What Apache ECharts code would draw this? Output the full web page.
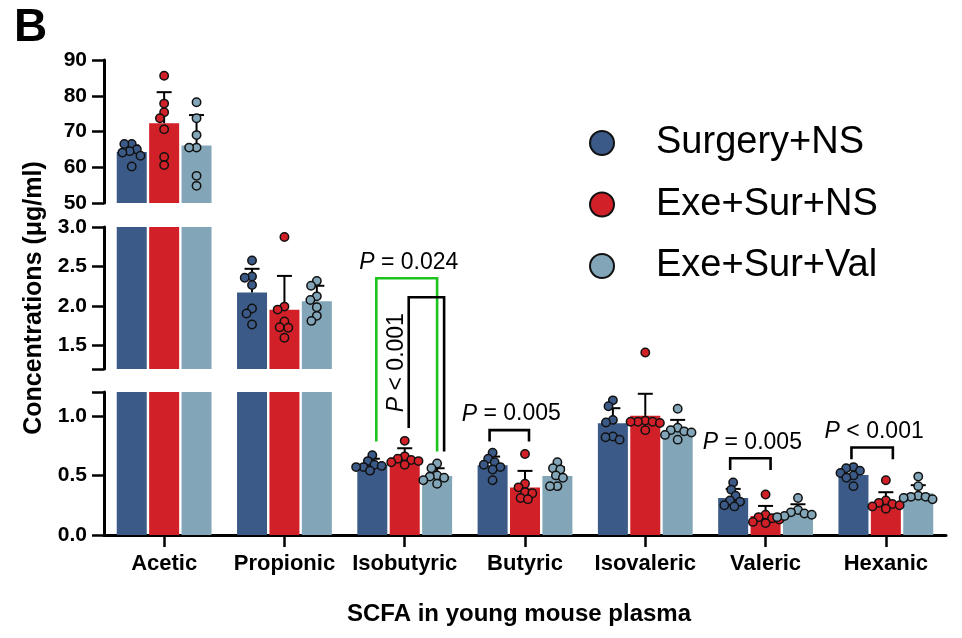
<!DOCTYPE html>
<html>
<head>
<meta charset="utf-8">
<title>SCFA in young mouse plasma</title>
<script src="https://cdn.jsdelivr.net/npm/echarts@6/dist/echarts.min.js"></script>
<style>
  html, body { margin: 0; padding: 0; background: #fff; }
  #chart { width: 962px; height: 638px; }
</style>
</head>
<body>
<div id="chart"></div>
<script>
// ---------- data ----------
const categories = ['Acetic', 'Propionic', 'Isobutyric', 'Butyric', 'Isovaleric', 'Valeric', 'Hexanic'];
const groups = ['Surgery+NS', 'Exe+Sur+NS', 'Exe+Sur+Val'];

// group means (µg/ml)
const meanSurgeryNS = [64.3, 2.17, 0.59, 0.585, 0.938, 0.311, 0.504];
const meanExeSurNS  = [72.3, 1.95, 0.65, 0.398, 1.00, 0.160, 0.275];
const meanExeSurVal = [66.1, 2.06, 0.496, 0.496, 0.882, 0.190, 0.350];

// standard deviations (drawn upward only)
const sdSurgeryNS = [1.8, 0.30, 0.05, 0.073, 0.126, 0.076, 0.056];
const sdExeSurNS  = [8.7, 0.43, 0.078, 0.14, 0.185, 0.084, 0.084];
const sdExeSurVal = [8.5, 0.195, 0.064, 0.073, 0.084, 0.068, 0.068];

// individual animals, one list per acid
const ptsSurgeryNS = [
  [66.5, 66.5, 65.0, 64.5, 64.1, 63.2, 60.2],
  [2.575, 2.373, 2.357, 2.265, 1.966, 1.903, 1.764],
  [0.67, 0.62, 0.59, 0.58, 0.57, 0.57, 0.54],
  [0.69, 0.64, 0.61, 0.59, 0.57, 0.55, 0.46],
  [1.13, 1.08, 0.966, 0.944, 0.826, 0.82, 0.80],
  [0.44, 0.38, 0.33, 0.29, 0.28, 0.25, 0.24],
  [0.57, 0.56, 0.54, 0.52, 0.50, 0.48, 0.41]
];
const ptsExeSurNS = [
  [85.6, 77.8, 75.4, 73.7, 70.6, 62.9, 60.6],
  [2.874, 1.991, 1.953, 1.802, 1.730, 1.722, 1.596],
  [0.79, 0.66, 0.64, 0.63, 0.62, 0.61, 0.59],
  [0.68, 0.43, 0.40, 0.36, 0.35, 0.31, 0.30],
  [1.41, 0.96, 0.95, 0.95, 0.95, 0.94, 0.88],
  [0.34, 0.17, 0.15, 0.14, 0.13, 0.11, 0.10],
  [0.46, 0.29, 0.27, 0.26, 0.25, 0.24, 0.22]
];
const ptsExeSurVal = [
  [78.2, 73.7, 69.0, 65.5, 65.5, 57.6, 54.8],
  [2.315, 2.256, 2.121, 2.075, 1.983, 1.874, 1.81],
  [0.60, 0.56, 0.50, 0.49, 0.48, 0.46, 0.43],
  [0.61, 0.56, 0.55, 0.50, 0.48, 0.41, 0.41],
  [1.06, 0.90, 0.88, 0.87, 0.86, 0.84, 0.80],
  [0.31, 0.21, 0.19, 0.18, 0.17, 0.16, 0.15],
  [0.49, 0.41, 0.33, 0.32, 0.32, 0.31, 0.30]
];

// broken y axis: upper, middle and lower panels
const rangeUpper  = [50, 90];
const rangeMiddle = [1.2, 3.0];
const rangeLower  = [0, 1.2];
const ticksUpper  = [50, 60, 70, 80, 90];
const ticksMiddle = [1.5, 2.0, 2.5, 3.0];
const ticksLower  = [0, 0.5, 1.0];

// pairwise comparisons
const sigText      = ['P = 0.024', 'P < 0.001', 'P = 0.005', 'P = 0.005', 'P < 0.001'];
const sigCategory  = [2, 2, 3, 5, 6];
const sigFromGroup = [0, 1, 0, 0, 0];
const sigToGroup   = [2, 2, 1, 1, 1];
const sigTopValue  = [2.35, 2.11, 0.88, 0.644, 0.734];
const sigTopPanel  = [1, 1, 2, 2, 2];
const sigLegFrom   = [0.784, 0.897, 0.784, 0.546, 0.636];
const sigLegTo     = [0.70, 0.70, 0.784, 0.546, 0.636];

// ---------- drawing ----------
const FONT = '"Liberation Sans", Arial, Helvetica, sans-serif';
const colors = ['#3B5A87', '#D12027', '#82A6B8'];
const means = [meanSurgeryNS, meanExeSurNS, meanExeSurVal];
const sds = [sdSurgeryNS, sdExeSurNS, sdExeSurVal];
const points = [ptsSurgeryNS, ptsExeSurNS, ptsExeSurVal];
const ranges = [rangeUpper, rangeMiddle, rangeLower];
const panelBoxes = [{ top: 60, height: 143 }, { top: 227, height: 142 }, { top: 392, height: 143 }];

const BAR_W = 30;
const BAR_GAP = 0.08;
const STEP = BAR_W * (1 + BAR_GAP);
const groupOffset = [-STEP, 0, STEP];
const DOT_R = 4.2;
const DOT_SPACING = 7.4;
const CAP_HALF = 7.5;

function panelOf(v) {
  for (let i = 0; i < ranges.length; i++) {
    if (v > ranges[i][0] && v <= ranges[i][1]) return i;
  }
  return 2;
}

// simple beeswarm: push overlapping dots sideways
function swarm(ys, d) {
  const xs = [];
  ys.forEach((y, i) => {
    const bans = [];
    for (let j = 0; j < i; j++) {
      const dy = Math.abs(y - ys[j]);
      if (dy < d) {
        const h = Math.sqrt(d * d - dy * dy);
        bans.push([xs[j] - h, xs[j] + h]);
      }
    }
    const cands = [0];
    bans.forEach(b => cands.push(b[0], b[1]));
    cands.sort((a, b) => (Math.abs(a) - Math.abs(b)) || (a - b));
    const x = cands.find(c => bans.every(b => c <= b[0] + 1e-6 || c >= b[1] - 1e-6));
    xs.push(x);
  });
  return xs;
}

function renderError(params, api) {
  const c = api.value(0), m = api.value(1), g = api.value(2), t = api.value(3);
  const p0 = api.coord([c, m]);
  const p1 = api.coord([c, t]);
  const x = p0[0] + groupOffset[g];
  const st = { stroke: '#000', lineWidth: 2 };
  return {
    type: 'group',
    children: [
      { type: 'line', shape: { x1: x, y1: p0[1], x2: x, y2: p1[1] }, style: st },
      { type: 'line', shape: { x1: x - CAP_HALF, y1: p1[1], x2: x + CAP_HALF, y2: p1[1] }, style: st }
    ]
  };
}

function makeDotRenderer(g, panel) {
  return function (params, api) {
    const c = api.value(0), k = api.value(2);
    const vals = points[g][c];
    const idx = [], ys = [];
    vals.forEach((v, j) => {
      if (panelOf(v) === panel) { idx.push(j); ys.push(api.coord([c, v])[1]); }
    });
    const xs = swarm(ys, DOT_SPACING);
    const pos = api.coord([c, vals[k]]);
    return {
      type: 'circle',
      shape: { cx: pos[0] + groupOffset[g] + xs[idx.indexOf(k)], cy: pos[1], r: DOT_R },
      style: { fill: colors[g], stroke: '#111', lineWidth: 1.5 }
    };
  };
}

const grids = panelBoxes.map(b => ({
  left: 104, right: 16, top: b.top, height: b.height, outerBoundsMode: 'none', containLabel: false
}));

const xAxes = ranges.map((r, i) => ({
  type: 'category',
  gridIndex: i,
  data: categories,
  show: i === 2,
  boundaryGap: true,
  axisLine: { show: i === 2, onZero: false, lineStyle: { color: '#000', width: 3 } },
  axisTick: { show: i === 2, alignWithLabel: true, length: 12, lineStyle: { color: '#000', width: 2.5 } },
  axisLabel: { show: i === 2, color: '#000', fontSize: 22, fontWeight: 'bold', fontFamily: FONT, margin: 18, interval: 0 },
  splitLine: { show: false },
  name: i === 2 ? 'SCFA in young mouse plasma' : '',
  nameLocation: 'middle',
  nameGap: 67,
  nameTextStyle: { color: '#000', fontSize: 24, fontWeight: 'bold', fontFamily: FONT, padding: [0, 12, 0, 0] }
}));

const tickSets = [ticksUpper, ticksMiddle, ticksLower];
const yAxes = ranges.map((r, i) => {
  const ax = {
    type: 'value',
    gridIndex: i,
    min: r[0],
    max: r[1],
    axisLine: { show: true, onZero: false, lineStyle: { color: '#000', width: 3 } },
    axisTick: { show: true, length: 12, lineStyle: { color: '#000', width: 2.5 } },
    axisLabel: {
      color: '#000', fontSize: 21, fontWeight: 'bold', fontFamily: FONT, margin: 17,
      formatter: v => (i === 0 ? String(Math.round(v)) : Number(v).toFixed(1))
    },
    splitLine: { show: false }
  };
  if (i === 0) {
    ax.interval = 10;
  } else {
    const ends = i === 1 ? [r[0]] : [r[1]];
    ax.axisTick.customValues = tickSets[i].concat(ends).sort((a, b) => a - b);
    ax.axisLabel.customValues = tickSets[i];
  }
  if (i === 1) {
    ax.name = 'Concentrations (μg/ml)';
    ax.nameLocation = 'middle';
    ax.nameRotate = 90;
    ax.nameGap = 57;
    ax.nameTextStyle = { color: '#000', fontSize: 25, fontWeight: 'bold', fontFamily: FONT };
  }
  return ax;
});

const series = [];
ranges.forEach((r, panel) => {
  groups.forEach((name, g) => {
    series.push({
      type: 'bar',
      name: name,
      xAxisIndex: panel,
      yAxisIndex: panel,
      data: means[g].map(v => (v <= r[0] ? '-' : Math.min(v, r[1]))),
      barWidth: BAR_W,
      barGap: (BAR_GAP * 100) + '%',
      clip: true,
      itemStyle: { color: colors[g] },
      silent: true,
      z: 2
    });
  });
  const errData = [];
  groups.forEach((_, g) => means[g].forEach((m, c) => {
    if (panelOf(m) === panel) errData.push([c, m, g, m + sds[g][c]]);
  }));
  series.push({
    type: 'custom', id: 'err' + panel, xAxisIndex: panel, yAxisIndex: panel,
    data: errData, encode: { x: 0, y: [1, 3] }, renderItem: renderError, silent: true, z: 3
  });
  groups.forEach((_, g) => {
    const d = [];
    points[g].forEach((vals, c) => vals.forEach((v, k) => {
      if (panelOf(v) === panel) d.push([c, v, k]);
    }));
    series.push({
      type: 'custom', id: 'dots' + panel + '_' + g, xAxisIndex: panel, yAxisIndex: panel,
      data: d, encode: { x: 0, y: 1 }, renderItem: makeDotRenderer(g, panel), silent: true, z: 4
    });
  });
});

const chart = echarts.init(document.getElementById('chart'), null, { renderer: 'canvas' });
chart.setOption({
  animation: false,
  backgroundColor: '#fff',
  textStyle: { fontFamily: FONT },
  title: {
    text: 'B', left: 9, top: 0,
    textStyle: { color: '#000', fontSize: 46, fontWeight: 'bold', fontFamily: FONT }
  },
  legend: {
    data: groups,
    orient: 'vertical',
    left: 584,
    top: 119,
    itemWidth: 98,
    itemHeight: 24,
    itemGap: 23.5,
    icon: 'circle',
    selectedMode: false,
    itemStyle: { borderColor: '#111', borderWidth: 2 },
    textStyle: { color: '#000', fontSize: 38, fontFamily: FONT, lineHeight: 38 }
  },
  grid: grids,
  xAxis: xAxes,
  yAxis: yAxes,
  series: series
});

// comparison brackets, placed through the axes of each panel
const bracketStyle = [
  { color: '#1DC41D', vertical: false, dl: 4, dr: 0 },
  { color: '#000', vertical: true, dl: 4, dr: 7 },
  { color: '#000', vertical: false, dl: -3, dr: 4 },
  { color: '#000', vertical: false, dl: -3, dr: 5 },
  { color: '#000', vertical: false, dl: -2, dr: 7 }
];
const elements = [];
sigText.forEach((label, i) => {
  const c = sigCategory[i];
  const st = bracketStyle[i];
  const center = chart.convertToPixel({ gridIndex: 2 }, [c, 0])[0];
  const x1 = center + groupOffset[sigFromGroup[i]] + st.dl;
  const x2 = center + groupOffset[sigToGroup[i]] + st.dr;
  const yTop = chart.convertToPixel({ gridIndex: sigTopPanel[i] }, [c, sigTopValue[i]])[1];
  const yL = chart.convertToPixel({ gridIndex: 2 }, [c, sigLegFrom[i]])[1];
  const yR = chart.convertToPixel({ gridIndex: 2 }, [c, sigLegTo[i]])[1];
  elements.push({
    type: 'polyline', z: 10, silent: true,
    shape: { points: [[x1, yL], [x1, yTop], [x2, yTop], [x2, yR]] },
    style: { stroke: st.color, lineWidth: 2.6, fill: null }
  });
  const parts = label.split(' ');
  const richText = '{i|' + parts[0] + '} ' + parts.slice(1).join(' ');
  const textStyle = {
    text: richText,
    fontSize: 23, fontFamily: FONT, fill: '#000',
    align: 'center', verticalAlign: 'middle',
    rich: { i: { fontStyle: 'italic', fontSize: 23, fontFamily: FONT, fill: '#000' } }
  };
  if (st.vertical) {
    elements.push({
      type: 'text', z: 10, silent: true,
      x: x1 - 12.5, y: (yTop + yL) / 2, rotation: Math.PI / 2,
      style: textStyle
    });
  } else {
    elements.push({
      type: 'text', z: 10, silent: true,
      x: (x1 + x2) / 2 + 2, y: yTop - 16,
      style: textStyle
    });
  }
});
chart.setOption({ graphic: { elements: elements } });
</script>
</body>
</html>
